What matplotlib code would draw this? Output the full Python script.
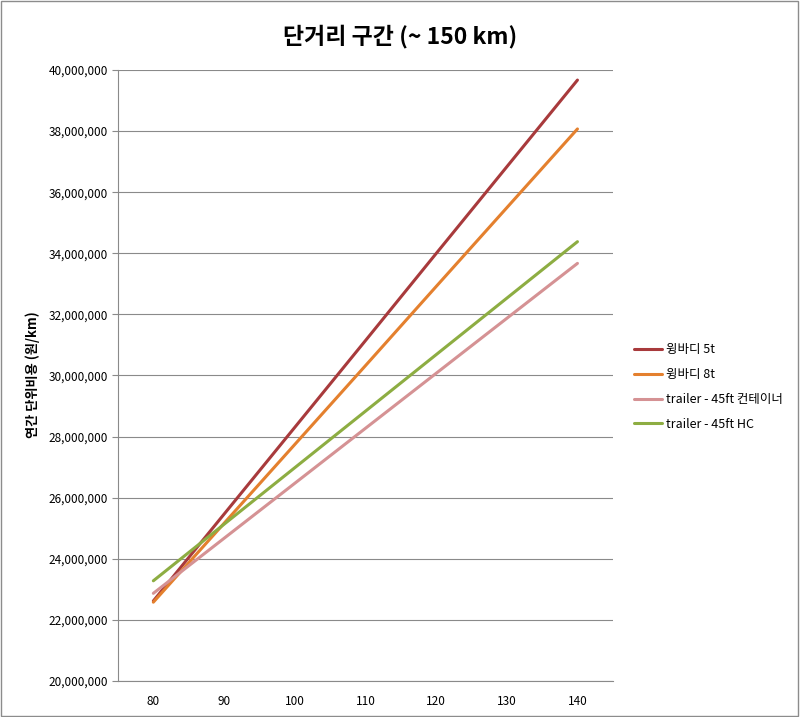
import matplotlib
matplotlib.use("Agg")
import matplotlib.pyplot as plt
from matplotlib.ticker import FuncFormatter, MultipleLocator
from matplotlib.patches import Rectangle

plt.rcParams['font.family'] = ['Noto Sans CJK KR', 'DejaVu Sans']

speeds = [80, 90, 100, 110, 120, 130, 140]
series_names = ["윙바디 5t", "윙바디 8t", "trailer - 45ft 컨테이너", "trailer - 45ft HC"]
wing5 = [22620000, 25460000, 28300000, 31140000, 33990000, 36830000, 39670000]
wing8 = [22580000, 25160000, 27740000, 30320000, 32910000, 35490000, 38070000]
trailer_cont = [22870000, 24670000, 26470000, 28270000, 30070000, 31870000, 33670000]
trailer_hc = [23280000, 25130000, 26980000, 28830000, 30680000, 32530000, 34380000]
colors = ['#A83A3C', '#E4802E', '#D59294', '#8DAD42']

fig = plt.figure(figsize=(8, 7.17), dpi=100)
fig.patches.append(Rectangle((0.001, 0.001), 0.997, 0.997, transform=fig.transFigure,
                             fill=False, edgecolor='#8c8c8c', linewidth=1.0))
ax = fig.add_axes([0.1475, 0.0502, 0.766 - 0.1475, 0.9024 - 0.0502])

for vals, name, c in zip([wing5, wing8, trailer_cont, trailer_hc], series_names, colors):
    ax.plot(speeds, vals, color=c, linewidth=2.2, label=name, solid_capstyle='round')

ax.set_xlim(75, 145)
ax.set_ylim(20000000, 40000000)
ax.set_xticks(speeds)
ax.yaxis.set_major_locator(MultipleLocator(2000000))
ax.yaxis.set_major_formatter(FuncFormatter(lambda v, p: f"{int(v):,}"))
ax.grid(axis='y', color='#8a8a8a', linewidth=0.8)
ax.set_axisbelow(True)
for s in ['top', 'right']:
    ax.spines[s].set_visible(False)
for s in ['left', 'bottom']:
    ax.spines[s].set_color('#8a8a8a')
    ax.spines[s].set_linewidth(0.8)
ax.tick_params(axis='y', length=4, color='#8a8a8a', labelsize=8.5, pad=3)
ax.tick_params(axis='x', length=0, labelsize=8.5, pad=10)

fig.text(0.5, 0.949, "단거리 구간 (~ 150 km)", ha='center', va='center',
         fontsize=16.5, fontweight='bold')
fig.text(0.041, 0.478, "연간 단위비용 (원/km)", ha='center', va='center',
         rotation=90, fontsize=9.5, fontweight='bold')

ax.legend(loc='upper left', bbox_to_anchor=(1.032, 0.561), frameon=False,
          fontsize=9, handlelength=2.3, handletextpad=0.3, labelspacing=0.95,
          borderaxespad=0)

fig.savefig("out.png", dpi=100)
